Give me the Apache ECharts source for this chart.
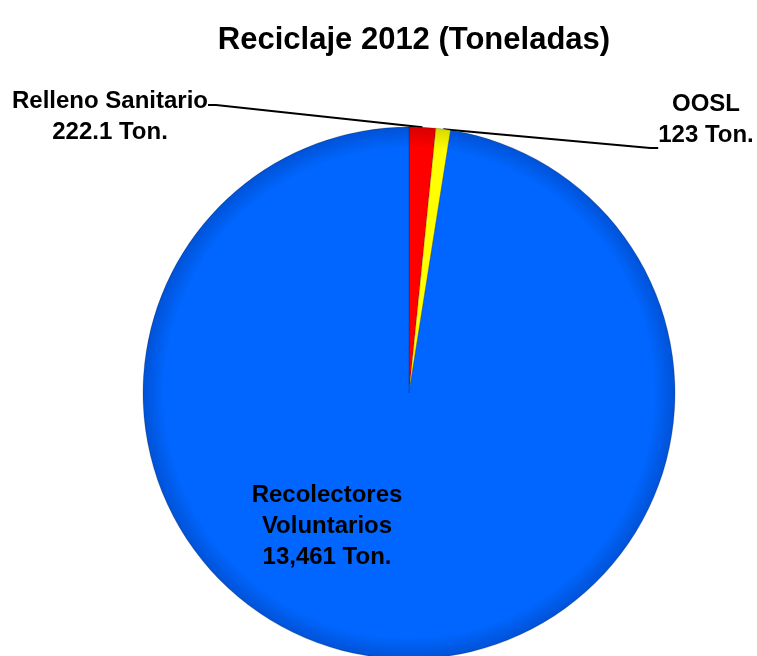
<!DOCTYPE html>
<html>
<head>
<meta charset="utf-8">
<script src="https://cdn.jsdelivr.net/npm/echarts@6/dist/echarts.min.js"></script>
<style>
html,body{margin:0;padding:0;background:#fff;}
#c{width:757px;height:656px;}
</style>
</head>
<body>
<div id="c"></div>
<script>
const categories = ['Relleno Sanitario', 'OOSL', 'Recolectores\nVoluntarios'];
const values = [222.1, 123, 13461];
const titleText = 'Reciclaje 2012 (Toneladas)';
const unit = 'Ton.';

const FONT = '"Liberation Sans Narrow", "Arial Narrow", "Liberation Sans", Arial, sans-serif';
const CX = 409, CY = 393, R = 266;

function grad(c1, c2) {
  return {
    type: 'radial', x: CX, y: CY, r: R, global: true,
    colorStops: [
      { offset: 0, color: c1 },
      { offset: 0.92, color: c1 },
      { offset: 1, color: c2 }
    ]
  };
}
const fills = [grad('#ff0000', '#d80000'), grad('#ffff00', '#dada00'), grad('#0066ff', '#0052d6')];

// label layout (positions of the text boxes, not data)
const labelPos = [
  { x: 110, y: 62, padding: [24, 0, 0, 0] },
  { x: 706, y: 89, padding: [0, 0, 56, 0] },
  { x: 327, y: 480, padding: 0 }
];

const chart = echarts.init(document.getElementById('c'));
chart.setOption({
  animation: false,
  title: {
    text: titleText,
    left: 409,
    textAlign: 'center',
    top: 20,
    textStyle: { fontFamily: FONT, fontWeight: 'bold', fontSize: 31, color: '#000' }
  },
  series: [{
    type: 'pie',
    center: [CX, CY],
    radius: R,
    startAngle: 90,
    clockwise: true,
    avoidLabelOverlap: false,
    itemStyle: { borderColor: 'rgba(0,0,0,0.35)', borderWidth: 0.6 },
    label: {
      show: true,
      position: 'outside',
      fontFamily: FONT,
      fontWeight: 'bold',
      fontSize: 24,
      lineHeight: 31,
      color: '#000',
      align: 'center',
      formatter: p => p.name + '\n' + p.value.toLocaleString('en-US') + ' ' + unit
    },
    labelLine: { show: true, length: 0, length2: 8, lineStyle: { color: '#000', width: 2 } },
    labelLayout: function (p) {
      const pos = labelPos[p.dataIndex];
      return { x: pos.x, y: pos.y, align: 'center', verticalAlign: 'top' };
    },
    data: categories.map((n, i) => ({
      name: n,
      value: values[i],
      itemStyle: { color: fills[i] },
      label: { padding: labelPos[i].padding },
      labelLine: { show: i < 2 }
    }))
  }]
});
</script>
</body>
</html>
